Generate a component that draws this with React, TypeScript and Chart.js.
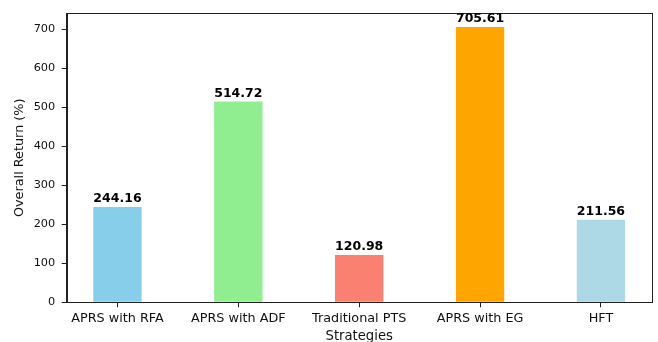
import React, { useEffect, useRef } from "react";
import { Chart, registerables } from "chart.js";

Chart.register(...registerables);

// Strategy names shown along the x axis
const strategies = ["APRS with RFA", "APRS with ADF", "Traditional PTS", "APRS with EG", "HFT"];
// Overall return per strategy, in percent
const overallReturn = [244.16, 514.72, 120.98, 705.61, 211.56];
// Bar fill colours, one per strategy
const barColors = ["#87CEEB", "#90EE90", "#FA8072", "#FFA500", "#ADD8E6"];
// Y axis tick values
const yTicks = [0, 100, 200, 300, 400, 500, 600, 700];

const FONT = "'DejaVu Sans', 'Liberation Sans', sans-serif";
const INK = "#111";

// Frame around the plotting area (all four spines)
const framePlugin = {
  id: "frame",
  afterDatasetsDraw(chart: any) {
    const { ctx, chartArea } = chart;
    ctx.save();
    ctx.strokeStyle = "#222";
    ctx.lineWidth = 1;
    ctx.strokeRect(
      Math.round(chartArea.left) + 0.5,
      Math.round(chartArea.top) + 0.5,
      Math.round(chartArea.right) - Math.round(chartArea.left),
      Math.round(chartArea.bottom) - Math.round(chartArea.top)
    );
    ctx.restore();
  },
};

// Bold value labels above each bar
const valueLabelPlugin = {
  id: "valueLabels",
  afterDraw(chart: any) {
    const { ctx } = chart;
    const meta = chart.getDatasetMeta(0);
    ctx.save();
    ctx.font = `bold 12.5px ${FONT}`;
    ctx.fillStyle = "#000";
    ctx.textAlign = "center";
    ctx.textBaseline = "alphabetic";
    meta.data.forEach((bar: any, i: number) => {
      ctx.fillText(overallReturn[i].toFixed(2), bar.x, bar.y - 5);
    });
    ctx.restore();
  },
};

export default function App() {
  const canvasRef = useRef<HTMLCanvasElement | null>(null);

  useEffect(() => {
    document.body.style.margin = "0";
    const canvas = canvasRef.current;
    if (!canvas) return;
    const yMax = Math.max(...overallReturn) * 1.05;
    const xPad = 0.42;

    const chart = new Chart(canvas, {
      type: "bar",
      data: {
        datasets: [
          {
            data: overallReturn.map((v, i) => ({ x: i, y: v })),
            backgroundColor: barColors,
            borderWidth: 0,
            barPercentage: 0.4,
            categoryPercentage: 1,
          },
        ],
      },
      options: {
        responsive: false,
        animation: false,
        devicePixelRatio: 1,
        layout: { padding: { top: 12, right: 6.3, left: 0, bottom: 0 } },
        plugins: {
          legend: { display: false },
          tooltip: { enabled: false },
        },
        scales: {
          x: {
            type: "linear",
            min: -xPad,
            max: strategies.length - 1 + xPad,
            offset: false,
            grid: {
              offset: false,
              drawOnChartArea: false,
              drawTicks: true,
              tickLength: 5,
              color: "#222",
            },
            border: { display: true, color: "#222", width: 1 },
            afterBuildTicks(scale: any) {
              scale.ticks = strategies.map((_, i) => ({ value: i }));
            },
            afterFit(scale: any) {
              scale.height = 39.7;
            },
            ticks: {
              autoSkip: false,
              maxRotation: 0,
              minRotation: 0,
              padding: 3.5,
              color: INK,
              font: { family: FONT, size: 12.8 },
              callback: (value: any) => strategies[Math.round(Number(value))] ?? "",
            },
            title: {
              display: true,
              text: "Strategies",
              color: INK,
              font: { family: FONT, size: 13.2, lineHeight: 0.5 },
              padding: { top: 0, bottom: 1.8 },
            },
          },
          y: {
            type: "linear",
            min: 0,
            max: yMax,
            grid: {
              drawOnChartArea: false,
              drawTicks: true,
              tickLength: 5,
              color: "#222",
            },
            border: { display: true, color: "#222", width: 1 },
            afterBuildTicks(scale: any) {
              scale.ticks = yTicks.map((v) => ({ value: v }));
            },
            afterFit(scale: any) {
              scale.width = 66.7;
            },
            ticks: {
              padding: 6.5,
              color: INK,
              font: { family: FONT, size: 11.3 },
              callback: (value: any) => String(value),
            },
            title: {
              display: true,
              text: "Overall Return (%)",
              color: INK,
              font: { family: FONT, size: 12.8, lineHeight: 1.2 },
              padding: { top: 12.3, bottom: 0 },
            },
          },
        },
      },
      plugins: [framePlugin, valueLabelPlugin],
    });

    return () => chart.destroy();
  }, []);

  return (
    <div style={{ position: "absolute", left: 0, top: 0, width: 658, height: 342, background: "#fff" }}>
      <canvas ref={canvasRef} width={658} height={342} />
    </div>
  );
}
